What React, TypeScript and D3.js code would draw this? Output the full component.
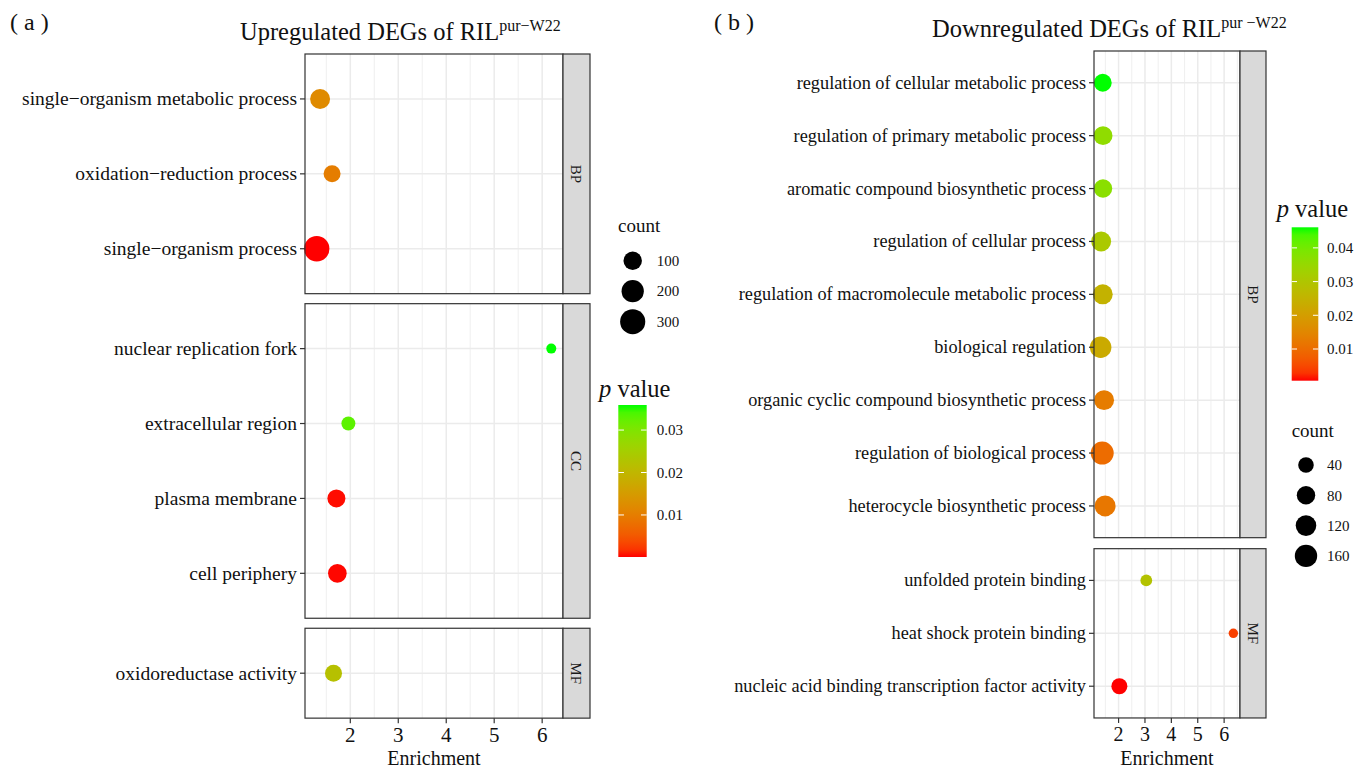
import * as d3 from "d3";
import { useEffect, useRef } from "react";

const W = 1365;
const H = 769;
const FONT = "'Liberation Serif', 'Times New Roman', serif";

// (a) upregulated
const upTerms = [
  "single−organism metabolic process",
  "oxidation−reduction process",
  "single−organism process",
  "nuclear replication fork",
  "extracellular region",
  "plasma membrane",
  "cell periphery",
  "oxidoreductase activity",
];
const upGroups = ["BP", "BP", "BP", "CC", "CC", "CC", "CC", "MF"];
const upEnrichment = [1.37, 1.62, 1.3, 6.19, 1.96, 1.71, 1.73, 1.65];
const upCount = [136, 72, 310, 10, 30, 91, 105, 72];
const upPValue = [0.012, 0.01, 0.0001, 0.0359, 0.033, 0.0003, 0.0002, 0.022];
const upFacets = ["BP", "CC", "MF"];
const upXTicks = [2, 3, 4, 5, 6];
const upSizeBreaks = [100, 200, 300];
const upColorBreaks = [0.01, 0.02, 0.03];

// (b) downregulated
const downTerms = [
  "regulation of cellular metabolic process",
  "regulation of primary metabolic process",
  "aromatic compound biosynthetic process",
  "regulation of cellular process",
  "regulation of macromolecule metabolic process",
  "biological regulation",
  "organic cyclic compound biosynthetic process",
  "regulation of biological process",
  "heterocycle biosynthetic process",
  "unfolded protein binding",
  "heat shock protein binding",
  "nucleic acid binding transcription factor activity",
];
const downGroups = ["BP", "BP", "BP", "BP", "BP", "BP", "BP", "BP", "BP", "MF", "MF", "MF"];
const downEnrichment = [1.4, 1.41, 1.41, 1.34, 1.4, 1.32, 1.45, 1.38, 1.49, 3.05, 6.35, 2.03];
const downCount = [72, 89, 80, 107, 107, 140, 107, 175, 127, 10, 5, 45];
const downPValue = [0.0461, 0.036, 0.037, 0.031, 0.025, 0.023, 0.013, 0.01, 0.012, 0.029, 0.004, 0.0006];
const downFacets = ["BP", "MF"];
const downXTicks = [2, 3, 4, 5, 6];
const downSizeBreaks = [40, 80, 120, 160];
const downColorBreaks = [0.01, 0.02, 0.03, 0.04];

const upConfig = {
  terms: upTerms, groups: upGroups, enrichment: upEnrichment, count: upCount, pvalue: upPValue,
  facets: upFacets, xTicks: upXTicks, sizeBreaks: upSizeBreaks, colorBreaks: upColorBreaks,
  left: 305, right: 563, stripW: 27, top: 54, step: 74.9, gap: 10,
  labelSize: 19.5, tickSize: 21, rRange: [5, 12.7],
  tickBase: 742, axisBase: 765,
  legend: {
    countTitle: [618, 232], countX: 632.7, countY0: 260.7, countDy: 30.5, countLabelX: 656.7,
    pTitle: [599, 397], barX: 618.3, barW: 28.4, barTop: 405, barBottom: 557, barLabelX: 656.7,
  },
};

const downConfig = {
  terms: downTerms, groups: downGroups, enrichment: downEnrichment, count: downCount, pvalue: downPValue,
  facets: downFacets, xTicks: downXTicks, sizeBreaks: downSizeBreaks, colorBreaks: downColorBreaks,
  left: 1094, right: 1240, stripW: 26, top: 51, step: 52.9, gap: 11,
  labelSize: 18.3, tickSize: 20, rRange: [4.7, 11.5],
  tickBase: 741, axisBase: 764.5,
  legend: {
    countTitle: [1291.7, 436.7], countX: 1306, countY0: 465, countDy: 30.3, countLabelX: 1327,
    pTitle: [1276.7, 217], barX: 1291.7, barW: 26.6, barTop: 227.3, barBottom: 380.7, barLabelX: 1327,
  },
};

function drawPanel(svg, cfg, id) {
  const g = svg.append("g");

  // x scale with ggplot's 5% expansion
  const [xmin, xmax] = d3.extent(cfg.enrichment);
  const pad = (xmax - xmin) * 0.05;
  const x = d3.scaleLinear().domain([xmin - pad, xmax + pad]).range([cfg.left, cfg.right]);
  const [d0, d1] = x.domain();
  const minors = [cfg.xTicks[0] - 0.5, ...cfg.xTicks.map((t) => t + 0.5)].filter((t) => t > d0 && t < d1);

  const pExt = d3.extent(cfg.pvalue);
  const color = d3.scaleLinear().domain(pExt).range(["#ff0000", "#00ff00"]).interpolate(d3.interpolateLab);

  const cExt = d3.extent(cfg.count);
  const norm = d3.scaleLinear().domain(cExt).range([0, 1]);
  const size = (c) => cfg.rRange[0] + (cfg.rRange[1] - cfg.rRange[0]) * Math.sqrt(Math.max(0, norm(c)));

  let top = cfg.top;
  let bottom = top;
  cfg.facets.forEach((f) => {
    const idx = d3.range(cfg.terms.length).filter((i) => cfg.groups[i] === f);
    const h = cfg.step * (idx.length - 1 + 1.2);
    const y = d3.scalePoint().domain(idx.map((i) => cfg.terms[i])).range([top, top + h]).padding(0.6);

    const p = g.append("g");
    p.append("rect")
      .attr("x", cfg.left).attr("y", top)
      .attr("width", cfg.right - cfg.left).attr("height", h)
      .attr("fill", "#fff");

    // grid
    p.selectAll(".minor").data(minors).enter().append("line")
      .attr("x1", (d) => x(d)).attr("x2", (d) => x(d))
      .attr("y1", top).attr("y2", top + h)
      .attr("stroke", "#ebebeb").attr("stroke-width", 0.8);
    p.selectAll(".major").data(cfg.xTicks).enter().append("line")
      .attr("x1", (d) => x(d)).attr("x2", (d) => x(d))
      .attr("y1", top).attr("y2", top + h)
      .attr("stroke", "#ebebeb").attr("stroke-width", 1.5);
    p.selectAll(".hmajor").data(idx).enter().append("line")
      .attr("x1", cfg.left).attr("x2", cfg.right)
      .attr("y1", (i) => y(cfg.terms[i])).attr("y2", (i) => y(cfg.terms[i]))
      .attr("stroke", "#ebebeb").attr("stroke-width", 1.5);

    // points
    p.selectAll("circle").data(idx).enter().append("circle")
      .attr("cx", (i) => x(cfg.enrichment[i]))
      .attr("cy", (i) => y(cfg.terms[i]))
      .attr("r", (i) => size(cfg.count[i]))
      .attr("fill", (i) => color(cfg.pvalue[i]));

    // border
    p.append("rect")
      .attr("x", cfg.left).attr("y", top)
      .attr("width", cfg.right - cfg.left).attr("height", h)
      .attr("fill", "none").attr("stroke", "#333").attr("stroke-width", 1.2);

    // strip
    p.append("rect")
      .attr("x", cfg.right).attr("y", top)
      .attr("width", cfg.stripW).attr("height", h)
      .attr("fill", "#d9d9d9").attr("stroke", "#333").attr("stroke-width", 1.2);
    p.append("text")
      .attr("transform", `translate(${cfg.right + cfg.stripW / 2},${top + h / 2}) rotate(90)`)
      .attr("text-anchor", "middle").attr("dy", "0.35em")
      .style("font-family", FONT).style("font-size", "15px").style("fill", "#1a1a1a")
      .text(f);

    // y axis
    p.selectAll(".ytick").data(idx).enter().append("line")
      .attr("x1", cfg.left - 5).attr("x2", cfg.left)
      .attr("y1", (i) => y(cfg.terms[i])).attr("y2", (i) => y(cfg.terms[i]))
      .attr("stroke", "#333").attr("stroke-width", 1.2);
    p.selectAll(".ylab").data(idx).enter().append("text")
      .attr("x", cfg.left - 8).attr("y", (i) => y(cfg.terms[i]))
      .attr("dy", "0.33em").attr("text-anchor", "end")
      .style("font-family", FONT).style("font-size", `${cfg.labelSize}px`).style("fill", "#111")
      .text((i) => cfg.terms[i]);

    bottom = top + h;
    top += h + cfg.gap;
  });

  // x axis on the last panel
  g.selectAll(".xtick").data(cfg.xTicks).enter().append("line")
    .attr("x1", (d) => x(d)).attr("x2", (d) => x(d))
    .attr("y1", bottom).attr("y2", bottom + 5)
    .attr("stroke", "#333").attr("stroke-width", 1.2);
  g.selectAll(".xlab").data(cfg.xTicks).enter().append("text")
    .attr("x", (d) => x(d)).attr("y", cfg.tickBase)
    .attr("text-anchor", "middle")
    .style("font-family", FONT).style("font-size", `${cfg.tickSize}px`).style("fill", "#111")
    .text((d) => d);
  g.append("text")
    .attr("x", (cfg.left + cfg.right) / 2).attr("y", cfg.axisBase)
    .attr("text-anchor", "middle")
    .style("font-family", FONT).style("font-size", "20px").style("fill", "#111")
    .text("Enrichment");

  // legends
  const L = cfg.legend;
  const lg = svg.append("g");
  lg.append("text")
    .attr("x", L.countTitle[0]).attr("y", L.countTitle[1])
    .style("font-family", FONT).style("font-size", "19px").style("fill", "#111")
    .text("count");
  cfg.sizeBreaks.forEach((b, k) => {
    const cy = L.countY0 + k * L.countDy;
    lg.append("circle").attr("cx", L.countX).attr("cy", cy).attr("r", size(b)).attr("fill", "#000");
    lg.append("text")
      .attr("x", L.countLabelX).attr("y", cy).attr("dy", "0.35em")
      .style("font-family", FONT).style("font-size", "15px").style("fill", "#111")
      .text(b);
  });

  const pt = lg.append("text")
    .attr("x", L.pTitle[0]).attr("y", L.pTitle[1])
    .style("font-family", FONT).style("font-size", "24.5px").style("fill", "#111");
  pt.append("tspan").style("font-style", "italic").text("p");
  pt.append("tspan").text(" value");

  const gid = `grad-${id}`;
  const grad = svg.append("defs").append("linearGradient")
    .attr("id", gid).attr("x1", 0).attr("x2", 0).attr("y1", 1).attr("y2", 0);
  d3.range(0, 1.0001, 0.05).forEach((t) => {
    grad.append("stop")
      .attr("offset", t)
      .attr("stop-color", color(pExt[0] + t * (pExt[1] - pExt[0])));
  });
  lg.append("rect")
    .attr("x", L.barX).attr("y", L.barTop)
    .attr("width", L.barW).attr("height", L.barBottom - L.barTop)
    .attr("fill", `url(#${gid})`);
  const by = d3.scaleLinear().domain(pExt).range([L.barBottom, L.barTop]);
  const tl = L.barW / 5;
  cfg.colorBreaks.forEach((b) => {
    lg.append("line")
      .attr("x1", L.barX).attr("x2", L.barX + tl)
      .attr("y1", by(b)).attr("y2", by(b))
      .attr("stroke", "#fff").attr("stroke-width", 1);
    lg.append("line")
      .attr("x1", L.barX + L.barW - tl).attr("x2", L.barX + L.barW)
      .attr("y1", by(b)).attr("y2", by(b))
      .attr("stroke", "#fff").attr("stroke-width", 1);
    lg.append("text")
      .attr("x", L.barLabelX).attr("y", by(b)).attr("dy", "0.35em")
      .style("font-family", FONT).style("font-size", "15px").style("fill", "#111")
      .text(b.toFixed(2));
  });
}

function drawTitle(svg, x, y, main, sup) {
  const t = svg.append("text")
    .attr("x", x).attr("y", y)
    .style("font-family", FONT).style("font-size", "24.5px").style("fill", "#111");
  t.append("tspan").text(main);
  t.append("tspan").attr("dy", -9).style("font-size", "16px").text(sup);
}

export default function App() {
  const svgRef = useRef(null);

  useEffect(() => {
    const svg = d3.select(svgRef.current);
    svg.selectAll("*").remove();

    drawPanel(svg, upConfig, "up");
    drawPanel(svg, downConfig, "down");

    drawTitle(svg, 240, 40, "Upregulated DEGs of RIL", "pur−W22");
    drawTitle(svg, 932, 37, "Downregulated DEGs of RIL", "pur −W22");

    svg.append("text").attr("x", 10).attr("y", 30)
      .style("font-family", FONT).style("font-size", "24px").style("fill", "#111")
      .text("( a )");
    svg.append("text").attr("x", 714).attr("y", 30)
      .style("font-family", FONT).style("font-size", "24px").style("fill", "#111")
      .text("( b )");
  }, []);

  return (
    <svg
      ref={svgRef}
      width={W}
      height={H}
      style={{ position: "absolute", left: 0, top: 0, background: "#fff" }}
    />
  );
}
